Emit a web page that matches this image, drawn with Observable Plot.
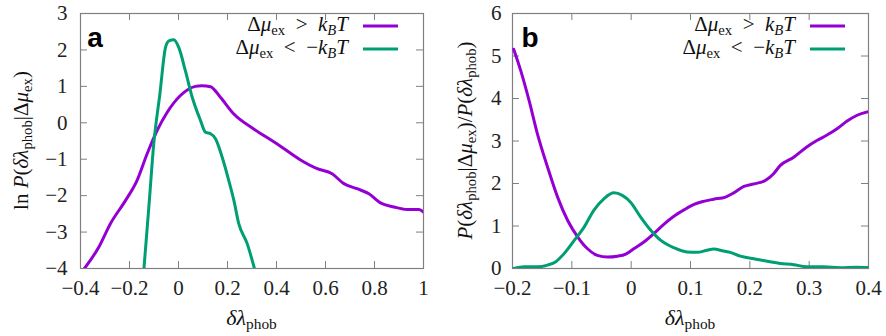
<!DOCTYPE html>
<html>
<head>
<meta charset="utf-8">
<script src="https://cdn.jsdelivr.net/npm/d3@7"></script>
<script src="https://cdn.jsdelivr.net/npm/@observablehq/plot@0.6"></script>
<style>
  html, body { margin: 0; padding: 0; background: white; }
  #wrap { display: flex; width: 886px; height: 336px; }
</style>
</head>
<body>
<div id="wrap"></div>
<script>
// ---------- data ----------
const seriesNames = ["Δμex > kBT", "Δμex < −kBT"];
const colors = ["#9400D3", "#009E73"];

// Panel a: ln P(δλ_phob | Δμ_ex)
const aTicksX = [-0.4, -0.2, 0, 0.2, 0.4, 0.6, 0.8, 1];
const aTicksY = [-4, -3, -2, -1, 0, 1, 2, 3];
const aPurpleX = [-0.384, -0.325, -0.278, -0.216, -0.169, -0.128, -0.087, -0.046, 0.008, 0.069, 0.095, 0.131, 0.171, 0.226, 0.307, 0.403, 0.498, 0.566, 0.627, 0.675, 0.729, 0.777, 0.824, 0.879, 0.933, 0.981, 1.0];
const aPurpleY = [-4.0, -3.41, -2.77, -2.13, -1.58, -0.85, -0.21, 0.29, 0.75, 1.0, 1.02, 0.99, 0.70, 0.24, -0.17, -0.58, -1.02, -1.26, -1.40, -1.67, -1.81, -1.95, -2.20, -2.31, -2.38, -2.38, -2.45];
const aGreenX = [-0.141, -0.121, -0.101, -0.076, -0.053, -0.039, -0.019, 0.001, 0.028, 0.056, 0.090, 0.110, 0.131, 0.151, 0.178, 0.205, 0.226, 0.246, 0.280, 0.310];
const aGreenY = [-4.0, -2.31, -0.58, 0.79, 2.07, 2.25, 2.28, 2.07, 1.43, 0.70, 0.06, -0.26, -0.30, -0.44, -0.94, -1.58, -2.13, -2.77, -3.31, -4.0];

// Panel b: P(δλ_phob | Δμ_ex) / P(δλ_phob)
const bTicksX = [-0.2, -0.1, 0, 0.1, 0.2, 0.3, 0.4];
const bTicksY = [0, 1, 2, 3, 4, 5, 6];
const bPurpleX = [-0.198, -0.186, -0.172, -0.158, -0.141, -0.124, -0.107, -0.090, -0.074, -0.057, -0.040, -0.023, -0.009, 0.005, 0.022, 0.038, 0.055, 0.072, 0.089, 0.106, 0.122, 0.139, 0.159, 0.173, 0.190, 0.207, 0.226, 0.240, 0.251, 0.274, 0.296, 0.313, 0.330, 0.347, 0.364, 0.380, 0.400];
const bPurpleY = [5.16, 4.65, 3.95, 3.17, 2.39, 1.68, 1.13, 0.74, 0.47, 0.31, 0.27, 0.29, 0.34, 0.47, 0.63, 0.82, 1.04, 1.23, 1.38, 1.51, 1.58, 1.63, 1.68, 1.78, 1.93, 1.99, 2.07, 2.23, 2.42, 2.62, 2.86, 3.01, 3.14, 3.29, 3.47, 3.60, 3.69];
const bGreenX = [-0.198, -0.180, -0.158, -0.141, -0.127, -0.113, -0.096, -0.079, -0.063, -0.046, -0.029, -0.015, -0.001, 0.016, 0.033, 0.050, 0.072, 0.094, 0.111, 0.128, 0.139, 0.156, 0.167, 0.184, 0.207, 0.229, 0.251, 0.274, 0.296, 0.324, 0.352, 0.380, 0.400];
const bGreenY = [0.0, 0.04, 0.04, 0.08, 0.16, 0.35, 0.66, 0.98, 1.37, 1.64, 1.78, 1.72, 1.56, 1.21, 0.90, 0.66, 0.49, 0.39, 0.38, 0.43, 0.46, 0.41, 0.38, 0.29, 0.23, 0.17, 0.12, 0.09, 0.04, 0.04, 0.02, 0.03, 0.02];

// ---------- helpers ----------
const SERIF = "'Liberation Serif', 'DejaVu Serif', serif";
const fmt = d3.format("");
const zip = (xs, ys) => xs.map((x, i) => ({x, y: ys[i]}));

function math(sel, parts, size) {
  const t = sel.append("text")
    .attr("font-family", SERIF)
    .attr("font-size", size)
    .attr("fill", "#111");
  let shifted = false;
  for (const p of parts) {
    const s = t.append("tspan").text(p.t);
    if (p.i) s.attr("font-style", "italic");
    if (p.sub) {
      s.attr("font-size", size * 0.7);
      if (!shifted) { s.attr("dy", size * 0.2); shifted = true; }
    } else if (shifted) {
      s.attr("dy", -size * 0.2); shifted = false;
    }
  }
  return t;
}

const legendParts = [
  [{t: "Δ"}, {t: "μ", i: true}, {t: "ex", sub: true}, {t: "\u2002>\u2002"}, {t: "k", i: true}, {t: "B", i: true, sub: true}, {t: "T", i: true}],
  [{t: "Δ"}, {t: "μ", i: true}, {t: "ex", sub: true}, {t: "\u2002<\u2002−"}, {t: "k", i: true}, {t: "B", i: true, sub: true}, {t: "T", i: true}]
];
const xLabelParts = [{t: "δλ", i: true}, {t: "phob", sub: true}];

function panel(cfg) {
  const W = cfg.width, H = 336, mt = 13, mb = 68;
  const innerW = W - cfg.ml - cfg.mr, innerH = H - mt - mb;
  const tickLen = 7;
  const grey = "#808080";
  const svg = Plot.plot({
    width: W, height: H,
    marginLeft: cfg.ml, marginRight: cfg.mr, marginTop: mt, marginBottom: mb,
    x: {domain: cfg.xDomain},
    y: {domain: cfg.yDomain},
    style: {fontFamily: SERIF, fontSize: "21px", color: "#222", background: "white", overflow: "visible"},
    marks: [
      Plot.ruleX(cfg.xt, {x: d => d, insetTop: innerH - tickLen, stroke: grey}),
      Plot.ruleX(cfg.xt, {x: d => d, insetBottom: innerH - tickLen, stroke: grey}),
      Plot.ruleY(cfg.yt, {y: d => d, insetRight: innerW - tickLen, stroke: grey}),
      Plot.ruleY(cfg.yt, {y: d => d, insetLeft: innerW - tickLen, stroke: grey}),
      Plot.frame({stroke: grey, strokeWidth: 1.2}),
      Plot.axisX(cfg.xt, {anchor: "bottom", tickSize: 0, tickPadding: 12, tickFormat: fmt, label: null, fontSize: 21, fontFamily: SERIF}),
      Plot.axisY(cfg.yt, {anchor: "left", tickSize: 0, tickPadding: cfg.yPad, tickFormat: fmt, label: null, fontSize: 21, fontFamily: SERIF}),
      Plot.line(cfg.purple, {x: "x", y: "y", stroke: colors[0], strokeWidth: 3, curve: "monotone-x", clip: true}),
      Plot.line(cfg.green, {x: "x", y: "y", stroke: colors[1], strokeWidth: 3, curve: "monotone-x", clip: true})
    ]
  });
  const s = d3.select(svg);
  // panel letter
  s.append("text").text(cfg.letter)
    .attr("x", cfg.letterX).attr("y", 47)
    .attr("font-family", "'Liberation Sans', Arial, sans-serif")
    .attr("font-weight", "bold").attr("font-size", 28).attr("fill", "#000");
  // legend
  const ly = [31, 54];
  legendParts.forEach((parts, i) => {
    math(s, parts, 21).attr("x", cfg.legTextX).attr("y", ly[i]).attr("text-anchor", "end");
    s.append("line")
      .attr("x1", cfg.legTextX + 15).attr("x2", cfg.legTextX + 50)
      .attr("y1", ly[i] - 5).attr("y2", ly[i] - 5)
      .attr("stroke", colors[i]).attr("stroke-width", 3);
  });
  // x label
  math(s, xLabelParts, 22)
    .attr("x", cfg.ml + innerW / 2).attr("y", 325).attr("text-anchor", "middle");
  // y label
  math(s, cfg.yLabel, 21)
    .attr("text-anchor", "middle")
    .attr("transform", `translate(${cfg.yLabelX},${mt + innerH / 2}) rotate(-90)`);
  return svg;
}

const wrap = document.getElementById("wrap");
wrap.appendChild(panel({
  width: 443, ml: 80, mr: 20, yPad: 13,
  xDomain: [-0.4, 1], yDomain: [-4, 3], xt: aTicksX, yt: aTicksY,
  purple: zip(aPurpleX, aPurpleY), green: zip(aGreenX, aGreenY),
  letter: "a", letterX: 95, legTextX: 348, yLabelX: 28,
  yLabel: [{t: "ln\u00a0"}, {t: "P", i: true}, {t: "("}, {t: "δλ", i: true}, {t: "phob", sub: true}, {t: "|Δ"}, {t: "μ", i: true}, {t: "ex", sub: true}, {t: ")"}]
}));
wrap.appendChild(panel({
  width: 443, ml: 69, mr: 18, yPad: 11,
  xDomain: [-0.2, 0.4], yDomain: [0, 6], xt: bTicksX, yt: bTicksY,
  purple: zip(bPurpleX, bPurpleY), green: zip(bGreenX, bGreenY),
  letter: "b", letterX: 87, legTextX: 352, yLabelX: 29,
  yLabel: [{t: "P", i: true}, {t: "("}, {t: "δλ", i: true}, {t: "phob", sub: true}, {t: "|Δ"}, {t: "μ", i: true}, {t: "ex", sub: true}, {t: ")/"}, {t: "P", i: true}, {t: "("}, {t: "δλ", i: true}, {t: "phob", sub: true}, {t: ")"}]
}));
</script>
</body>
</html>
